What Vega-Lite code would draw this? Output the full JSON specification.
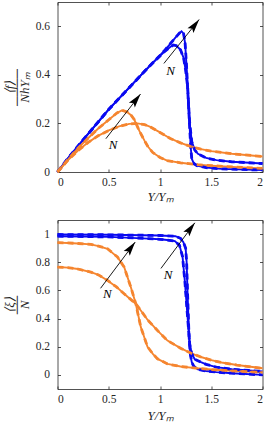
{
  "$schema": "https://vega.github.io/schema/vega-lite/v6.json",
  "padding": {"left": 2.5, "top": 1, "right": 3, "bottom": 2},
  "spacing": 48,
  "bounds": "flush",
  "config": {
    "font": "Liberation Serif",
    "view": {"stroke": null},
    "axis": {
      "grid": false,
      "domainColor": "#262626",
      "tickColor": "#262626",
      "labelColor": "#262626",
      "titleColor": "#262626",
      "labelFont": "Liberation Serif",
      "labelFontSize": 11.5,
      "titleFont": "Liberation Serif",
      "titleFontSize": 13,
      "titleFontWeight": "normal",
      "tickSize": -3,
      "domainWidth": 0.8,
      "tickWidth": 0.8
    }
  },
  "datasets": {
    "f": [
      {"s":"bA","c":"blue","x":0,"y":0},{"s":"bA","c":"blue","x":0.1,"y":0.055},{"s":"bA","c":"blue","x":0.25,"y":0.132},{"s":"bA","c":"blue","x":0.5,"y":0.258},{"s":"bA","c":"blue","x":0.75,"y":0.37},{"s":"bA","c":"blue","x":0.9,"y":0.437},{"s":"bA","c":"blue","x":1.0,"y":0.478},{"s":"bA","c":"blue","x":1.05,"y":0.498},{"s":"bA","c":"blue","x":1.1,"y":0.515},{"s":"bA","c":"blue","x":1.13,"y":0.523},{"s":"bA","c":"blue","x":1.16,"y":0.52},{"s":"bA","c":"blue","x":1.2,"y":0.503},{"s":"bA","c":"blue","x":1.23,"y":0.47},{"s":"bA","c":"blue","x":1.25,"y":0.42},{"s":"bA","c":"blue","x":1.27,"y":0.35},{"s":"bA","c":"blue","x":1.28,"y":0.27},{"s":"bA","c":"blue","x":1.29,"y":0.2},{"s":"bA","c":"blue","x":1.31,"y":0.125},{"s":"bA","c":"blue","x":1.34,"y":0.09},{"s":"bA","c":"blue","x":1.37,"y":0.075},{"s":"bA","c":"blue","x":1.45,"y":0.058},{"s":"bA","c":"blue","x":1.55,"y":0.049},{"s":"bA","c":"blue","x":1.7,"y":0.042},{"s":"bA","c":"blue","x":2.0,"y":0.035},
      {"s":"bB","c":"blue","x":0,"y":0},{"s":"bB","c":"blue","x":0.1,"y":0.055},{"s":"bB","c":"blue","x":0.25,"y":0.132},{"s":"bB","c":"blue","x":0.5,"y":0.258},{"s":"bB","c":"blue","x":0.75,"y":0.37},{"s":"bB","c":"blue","x":0.9,"y":0.437},{"s":"bB","c":"blue","x":1.0,"y":0.48},{"s":"bB","c":"blue","x":1.05,"y":0.503},{"s":"bB","c":"blue","x":1.1,"y":0.528},{"s":"bB","c":"blue","x":1.15,"y":0.553},{"s":"bB","c":"blue","x":1.19,"y":0.572},{"s":"bB","c":"blue","x":1.21,"y":0.579},{"s":"bB","c":"blue","x":1.23,"y":0.57},{"s":"bB","c":"blue","x":1.245,"y":0.53},{"s":"bB","c":"blue","x":1.26,"y":0.43},{"s":"bB","c":"blue","x":1.275,"y":0.3},{"s":"bB","c":"blue","x":1.29,"y":0.18},{"s":"bB","c":"blue","x":1.3,"y":0.1},{"s":"bB","c":"blue","x":1.31,"y":0.055},{"s":"bB","c":"blue","x":1.33,"y":0.035},{"s":"bB","c":"blue","x":1.36,"y":0.026},{"s":"bB","c":"blue","x":1.45,"y":0.018},{"s":"bB","c":"blue","x":1.6,"y":0.013},{"s":"bB","c":"blue","x":2.0,"y":0.008},
      {"s":"oA","c":"orange","x":0,"y":0},{"s":"oA","c":"orange","x":0.1,"y":0.05},{"s":"oA","c":"orange","x":0.2,"y":0.098},{"s":"oA","c":"orange","x":0.3,"y":0.14},{"s":"oA","c":"orange","x":0.4,"y":0.18},{"s":"oA","c":"orange","x":0.5,"y":0.215},{"s":"oA","c":"orange","x":0.58,"y":0.243},{"s":"oA","c":"orange","x":0.63,"y":0.254},{"s":"oA","c":"orange","x":0.68,"y":0.247},{"s":"oA","c":"orange","x":0.72,"y":0.233},{"s":"oA","c":"orange","x":0.75,"y":0.215},{"s":"oA","c":"orange","x":0.8,"y":0.168},{"s":"oA","c":"orange","x":0.85,"y":0.128},{"s":"oA","c":"orange","x":0.88,"y":0.106},{"s":"oA","c":"orange","x":0.93,"y":0.08},{"s":"oA","c":"orange","x":1.0,"y":0.06},{"s":"oA","c":"orange","x":1.07,"y":0.047},{"s":"oA","c":"orange","x":1.2,"y":0.038},{"s":"oA","c":"orange","x":1.37,"y":0.03},{"s":"oA","c":"orange","x":1.5,"y":0.026},{"s":"oA","c":"orange","x":1.75,"y":0.02},{"s":"oA","c":"orange","x":2.0,"y":0.015},
      {"s":"oB","c":"orange","x":0,"y":0},{"s":"oB","c":"orange","x":0.1,"y":0.048},{"s":"oB","c":"orange","x":0.2,"y":0.088},{"s":"oB","c":"orange","x":0.3,"y":0.122},{"s":"oB","c":"orange","x":0.4,"y":0.15},{"s":"oB","c":"orange","x":0.5,"y":0.171},{"s":"oB","c":"orange","x":0.6,"y":0.188},{"s":"oB","c":"orange","x":0.7,"y":0.198},{"s":"oB","c":"orange","x":0.78,"y":0.2},{"s":"oB","c":"orange","x":0.85,"y":0.195},{"s":"oB","c":"orange","x":0.9,"y":0.187},{"s":"oB","c":"orange","x":1.0,"y":0.163},{"s":"oB","c":"orange","x":1.1,"y":0.138},{"s":"oB","c":"orange","x":1.2,"y":0.12},{"s":"oB","c":"orange","x":1.3,"y":0.105},{"s":"oB","c":"orange","x":1.4,"y":0.094},{"s":"oB","c":"orange","x":1.5,"y":0.086},{"s":"oB","c":"orange","x":1.7,"y":0.075},{"s":"oB","c":"orange","x":2.0,"y":0.064}
    ],
    "fa": [
      {"x1":1.038,"y1":0.447,"x2":1.382,"y2":0.628,"lx":1.103,"ly":0.417},
      {"x1":0.472,"y1":0.137,"x2":0.81,"y2":0.321,"lx":0.543,"ly":0.11}
    ],
    "xi": [
      {"s":"bA","c":"blue","x":0,"y":0.985},{"s":"bA","c":"blue","x":0.5,"y":0.98},{"s":"bA","c":"blue","x":0.885,"y":0.968},{"s":"bA","c":"blue","x":1.0,"y":0.963},{"s":"bA","c":"blue","x":1.07,"y":0.958},{"s":"bA","c":"blue","x":1.145,"y":0.95},{"s":"bA","c":"blue","x":1.19,"y":0.92},{"s":"bA","c":"blue","x":1.22,"y":0.84},{"s":"bA","c":"blue","x":1.243,"y":0.66},{"s":"bA","c":"blue","x":1.268,"y":0.42},{"s":"bA","c":"blue","x":1.29,"y":0.22},{"s":"bA","c":"blue","x":1.31,"y":0.15},{"s":"bA","c":"blue","x":1.34,"y":0.11},{"s":"bA","c":"blue","x":1.4,"y":0.09},{"s":"bA","c":"blue","x":1.45,"y":0.075},{"s":"bA","c":"blue","x":1.55,"y":0.055},{"s":"bA","c":"blue","x":1.7,"y":0.04},{"s":"bA","c":"blue","x":2.0,"y":0.025},
      {"s":"bB","c":"blue","x":0,"y":0.997},{"s":"bB","c":"blue","x":0.5,"y":0.995},{"s":"bB","c":"blue","x":1.0,"y":0.99},{"s":"bB","c":"blue","x":1.15,"y":0.985},{"s":"bB","c":"blue","x":1.2,"y":0.97},{"s":"bB","c":"blue","x":1.228,"y":0.943},{"s":"bB","c":"blue","x":1.25,"y":0.9},{"s":"bB","c":"blue","x":1.26,"y":0.8},{"s":"bB","c":"blue","x":1.268,"y":0.6},{"s":"bB","c":"blue","x":1.275,"y":0.45},{"s":"bB","c":"blue","x":1.282,"y":0.3},{"s":"bB","c":"blue","x":1.29,"y":0.2},{"s":"bB","c":"blue","x":1.298,"y":0.137},{"s":"bB","c":"blue","x":1.31,"y":0.09},{"s":"bB","c":"blue","x":1.33,"y":0.06},{"s":"bB","c":"blue","x":1.37,"y":0.04},{"s":"bB","c":"blue","x":1.45,"y":0.028},{"s":"bB","c":"blue","x":1.55,"y":0.02},{"s":"bB","c":"blue","x":1.7,"y":0.012},{"s":"bB","c":"blue","x":2.0,"y":0.0},
      {"s":"oA","c":"orange","x":0,"y":0.939},{"s":"oA","c":"orange","x":0.1,"y":0.937},{"s":"oA","c":"orange","x":0.2,"y":0.933},{"s":"oA","c":"orange","x":0.325,"y":0.927},{"s":"oA","c":"orange","x":0.4,"y":0.915},{"s":"oA","c":"orange","x":0.488,"y":0.896},{"s":"oA","c":"orange","x":0.585,"y":0.837},{"s":"oA","c":"orange","x":0.65,"y":0.766},{"s":"oA","c":"orange","x":0.715,"y":0.624},{"s":"oA","c":"orange","x":0.764,"y":0.505},{"s":"oA","c":"orange","x":0.813,"y":0.339},{"s":"oA","c":"orange","x":0.85,"y":0.26},{"s":"oA","c":"orange","x":0.878,"y":0.2},{"s":"oA","c":"orange","x":0.93,"y":0.15},{"s":"oA","c":"orange","x":0.976,"y":0.114},{"s":"oA","c":"orange","x":1.073,"y":0.078},{"s":"oA","c":"orange","x":1.2,"y":0.06},{"s":"oA","c":"orange","x":1.35,"y":0.048},{"s":"oA","c":"orange","x":1.5,"y":0.038},{"s":"oA","c":"orange","x":1.75,"y":0.027},{"s":"oA","c":"orange","x":2.0,"y":0.018},
      {"s":"oB","c":"orange","x":0,"y":0.766},{"s":"oB","c":"orange","x":0.1,"y":0.762},{"s":"oB","c":"orange","x":0.2,"y":0.752},{"s":"oB","c":"orange","x":0.325,"y":0.73},{"s":"oB","c":"orange","x":0.4,"y":0.71},{"s":"oB","c":"orange","x":0.488,"y":0.671},{"s":"oB","c":"orange","x":0.575,"y":0.625},{"s":"oB","c":"orange","x":0.65,"y":0.576},{"s":"oB","c":"orange","x":0.7,"y":0.545},{"s":"oB","c":"orange","x":0.764,"y":0.505},{"s":"oB","c":"orange","x":0.82,"y":0.45},{"s":"oB","c":"orange","x":0.878,"y":0.392},{"s":"oB","c":"orange","x":0.976,"y":0.315},{"s":"oB","c":"orange","x":1.073,"y":0.244},{"s":"oB","c":"orange","x":1.2,"y":0.19},{"s":"oB","c":"orange","x":1.3,"y":0.155},{"s":"oB","c":"orange","x":1.4,"y":0.127},{"s":"oB","c":"orange","x":1.5,"y":0.105},{"s":"oB","c":"orange","x":1.6,"y":0.088},{"s":"oB","c":"orange","x":1.75,"y":0.07},{"s":"oB","c":"orange","x":2.0,"y":0.047}
    ],
    "xa": [
      {"x1":0.42,"y1":0.615,"x2":0.758,"y2":0.943,"lx":0.485,"ly":0.574},
      {"x1":1.009,"y1":0.756,"x2":1.34,"y2":1.08,"lx":1.08,"ly":0.713}
    ]
  },
  "vconcat": [
    {
      "width": 205,
      "height": 170,
      "resolve": {"axis": {"x": "independent", "y": "independent"}},
      "layer": [
        {
          "data": {"name": "f"},
          "mark": {"type": "line", "strokeWidth": 1.9},
          "encoding": {
            "x": {"field": "x", "type": "quantitative", "scale": {"domain": [0, 2], "nice": false},
                  "axis": {"orient": "bottom", "values": [0, 0.5, 1, 1.5, 2], "format": "~g", "labelPadding": 7, "title": "Y/Yₘ", "titleFontStyle": "italic", "titleBaseline": "alphabetic", "titleY": 28}},
            "y": {"field": "y", "type": "quantitative", "scale": {"domain": [0, 0.7], "nice": false},
                  "axis": {"orient": "left", "values": [0, 0.2, 0.4, 0.6], "format": "~g", "labelPadding": 11, "title": ["⟨f⟩", "────", "NhYₘ"], "titleFontStyle": "italic", "titleLineHeight": 7.5, "titlePadding": 4}},
            "color": {"field": "c", "type": "nominal", "scale": {"domain": ["blue", "orange"], "range": ["#0a0af0", "#f5852f"]}, "legend": null},
            "detail": {"field": "s"}
          }
        },
        {
          "data": {"name": "f"},
          "mark": {"type": "line", "strokeWidth": 2.8, "strokeDash": [6, 4]},
          "encoding": {
            "x": {"field": "x", "type": "quantitative", "axis": {"orient": "top", "values": [0, 0.5, 1, 1.5, 2], "labels": false, "title": null}},
            "y": {"field": "y", "type": "quantitative", "axis": {"orient": "right", "values": [0, 0.2, 0.4, 0.6], "labels": false, "title": null}},
            "color": {"field": "c", "type": "nominal", "legend": null},
            "detail": {"field": "s"}
          }
        },
        {
          "data": {"name": "fa"},
          "mark": {"type": "rule", "color": "black", "strokeWidth": 0.9},
          "encoding": {
            "x": {"field": "x1", "type": "quantitative", "axis": null},
            "y": {"field": "y1", "type": "quantitative", "axis": null},
            "x2": {"field": "x2"},
            "y2": {"field": "y2"}
          }
        },
        {
          "data": {"name": "fa"},
          "mark": {"type": "point", "shape": "M0,0L-0.35,1.3L0,1.05L0.35,1.3Z", "size": 470, "angle": 38, "filled": true, "color": "black", "opacity": 1, "strokeWidth": 0},
          "encoding": {
            "x": {"field": "x2", "type": "quantitative", "axis": null},
            "y": {"field": "y2", "type": "quantitative", "axis": null}
          }
        },
        {
          "data": {"name": "fa"},
          "mark": {"type": "text", "text": "N", "fontStyle": "italic", "fontSize": 13, "font": "Liberation Serif", "color": "black"},
          "encoding": {
            "x": {"field": "lx", "type": "quantitative", "axis": null},
            "y": {"field": "ly", "type": "quantitative", "axis": null}
          }
        }
      ]
    },
    {
      "width": 205,
      "height": 169,
      "resolve": {"axis": {"x": "independent", "y": "independent"}},
      "layer": [
        {
          "data": {"name": "xi"},
          "mark": {"type": "line", "strokeWidth": 1.9},
          "encoding": {
            "x": {"field": "x", "type": "quantitative", "scale": {"domain": [0, 2], "nice": false},
                  "axis": {"orient": "bottom", "values": [0, 0.5, 1, 1.5, 2], "format": "~g", "labelPadding": 7, "title": "Y/Yₘ", "titleFontStyle": "italic", "titleBaseline": "alphabetic", "titleY": 30}},
            "y": {"field": "y", "type": "quantitative", "scale": {"domain": [-0.1, 1.1], "nice": false},
                  "axis": {"orient": "left", "values": [0, 0.2, 0.4, 0.6, 0.8, 1], "format": "~g", "labelPadding": 11, "title": ["⟨ξ⟩", "──", "N"], "titleFontStyle": "italic", "titleLineHeight": 7.5, "titlePadding": 4}},
            "color": {"field": "c", "type": "nominal", "scale": {"domain": ["blue", "orange"], "range": ["#0a0af0", "#f5852f"]}, "legend": null},
            "detail": {"field": "s"}
          }
        },
        {
          "data": {"name": "xi"},
          "mark": {"type": "line", "strokeWidth": 2.8, "strokeDash": [6, 4]},
          "encoding": {
            "x": {"field": "x", "type": "quantitative", "axis": {"orient": "top", "values": [0, 0.5, 1, 1.5, 2], "labels": false, "title": null}},
            "y": {"field": "y", "type": "quantitative", "axis": {"orient": "right", "values": [0, 0.2, 0.4, 0.6, 0.8, 1], "labels": false, "title": null}},
            "color": {"field": "c", "type": "nominal", "legend": null},
            "detail": {"field": "s"}
          }
        },
        {
          "data": {"name": "xa"},
          "mark": {"type": "rule", "color": "black", "strokeWidth": 0.9},
          "encoding": {
            "x": {"field": "x1", "type": "quantitative", "axis": null},
            "y": {"field": "y1", "type": "quantitative", "axis": null},
            "x2": {"field": "x2"},
            "y2": {"field": "y2"}
          }
        },
        {
          "data": {"name": "xa"},
          "mark": {"type": "point", "shape": "M0,0L-0.35,1.3L0,1.05L0.35,1.3Z", "size": 470, "angle": 37, "filled": true, "color": "black", "opacity": 1, "strokeWidth": 0},
          "encoding": {
            "x": {"field": "x2", "type": "quantitative", "axis": null},
            "y": {"field": "y2", "type": "quantitative", "axis": null}
          }
        },
        {
          "data": {"name": "xa"},
          "mark": {"type": "text", "text": "N", "fontStyle": "italic", "fontSize": 13, "font": "Liberation Serif", "color": "black"},
          "encoding": {
            "x": {"field": "lx", "type": "quantitative", "axis": null},
            "y": {"field": "ly", "type": "quantitative", "axis": null}
          }
        }
      ]
    }
  ]
}
